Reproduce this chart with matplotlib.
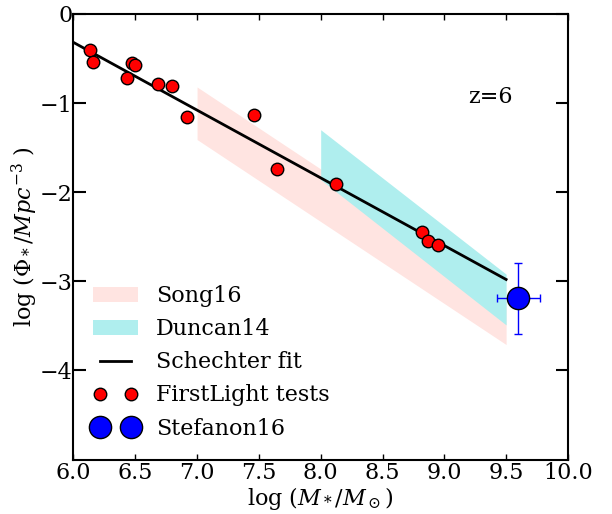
"""Stellar mass function at z=6: FirstLight runs against published fits."""
import matplotlib

matplotlib.use("Agg")
import matplotlib.pyplot as plt  # noqa: E402
from matplotlib.lines import Line2D  # noqa: E402
from matplotlib.patches import Patch  # noqa: E402

# FirstLight test simulations
fl_mass = [6.13, 6.16, 6.47, 6.50, 6.43, 6.68, 6.80, 6.92, 7.46, 7.65, 8.12, 8.82, 8.87, 8.95]
fl_phi = [-0.40, -0.54, -0.55, -0.57, -0.72, -0.79, -0.81, -1.16, -1.13, -1.74, -1.91, -2.45, -2.55, -2.59]

# Schechter fit through the simulated points
fit_mass = [6.0, 9.5]
fit_phi = [-0.32, -2.98]

# observational bands
song_mass = [7.0, 9.5]
song_hi = [-0.82, -3.12]
song_lo = [-1.41, -3.71]

duncan_mass = [8.0, 9.5]
duncan_hi = [-1.30, -2.92]
duncan_lo = [-1.86, -3.49]

stef_mass = [9.6]
stef_phi = [-3.19]
stef_xerr = [0.17]
stef_yerr = [0.40]

SONG_COLOR = "mistyrose"
DUNCAN_COLOR = "paleturquoise"

plt.rcParams["font.family"] = "serif"
plt.rcParams["font.serif"] = ["DejaVu Serif"]
plt.rcParams["mathtext.fontset"] = "dejavuserif"
plt.rcParams["font.size"] = 16

fig = plt.figure(figsize=(6.12, 5.14), dpi=100)
ax = fig.add_axes([0.12, 0.106, 0.808, 0.867])

ax.fill_between(song_mass, song_lo, song_hi, color=SONG_COLOR, lw=0, zorder=1)
ax.fill_between(duncan_mass, duncan_lo, duncan_hi, color=DUNCAN_COLOR, lw=0, zorder=2)
ax.plot(fit_mass, fit_phi, color="black", lw=2, zorder=3)
ax.plot(fl_mass, fl_phi, "o", color="red", mec="black", mew=1, ms=9, zorder=4)
ax.errorbar(stef_mass, stef_phi, xerr=stef_xerr, yerr=stef_yerr, fmt="none",
            ecolor="blue", elinewidth=1, capsize=3, zorder=4)
ax.plot(stef_mass, stef_phi, "o", color="blue", mec="black", mew=1, ms=16, zorder=5)

ax.text(9.37, -0.93, "z=6", ha="center", va="center", fontsize=16)

ax.set_xlim(6, 10)
ax.set_ylim(-5, 0)
ax.set_yticks([-4, -3, -2, -1, 0])
ax.set_xticks([6.0, 6.5, 7.0, 7.5, 8.0, 8.5, 9.0, 9.5, 10.0])
ax.set_xlabel(r"log ($M_*/M_\odot$)", fontsize=16, labelpad=1)
ax.set_ylabel(r"log ($\Phi_*/Mpc^{-3}$ )", fontsize=16, labelpad=0)

ax.tick_params(axis="both", direction="in", top=True, right=True, labelsize=16)
ax.tick_params(axis="x", length=4, width=1, pad=1.5)
ax.tick_params(axis="y", length=9, width=1.5, pad=0.5)
for spine in ax.spines.values():
    spine.set_linewidth(1.5)

handles = [
    Patch(facecolor=SONG_COLOR, edgecolor="none"),
    Patch(facecolor=DUNCAN_COLOR, edgecolor="none"),
    Line2D([], [], color="black", lw=2),
    Line2D([], [], ls="none", marker="o", color="red", mec="black", mew=1, ms=9),
    Line2D([], [], ls="none", marker="o", color="blue", mec="black", mew=1, ms=16),
]
labels = ["Song16", "Duncan14", "Schechter fit", "FirstLight tests", "Stefanon16"]
ax.legend(handles, labels, loc="lower left", frameon=False, numpoints=2,
          fontsize=16, handlelength=2.0, handletextpad=0.8, labelspacing=0.5)

fig.savefig("out.png", dpi=100, facecolor="white")
plt.close(fig)
